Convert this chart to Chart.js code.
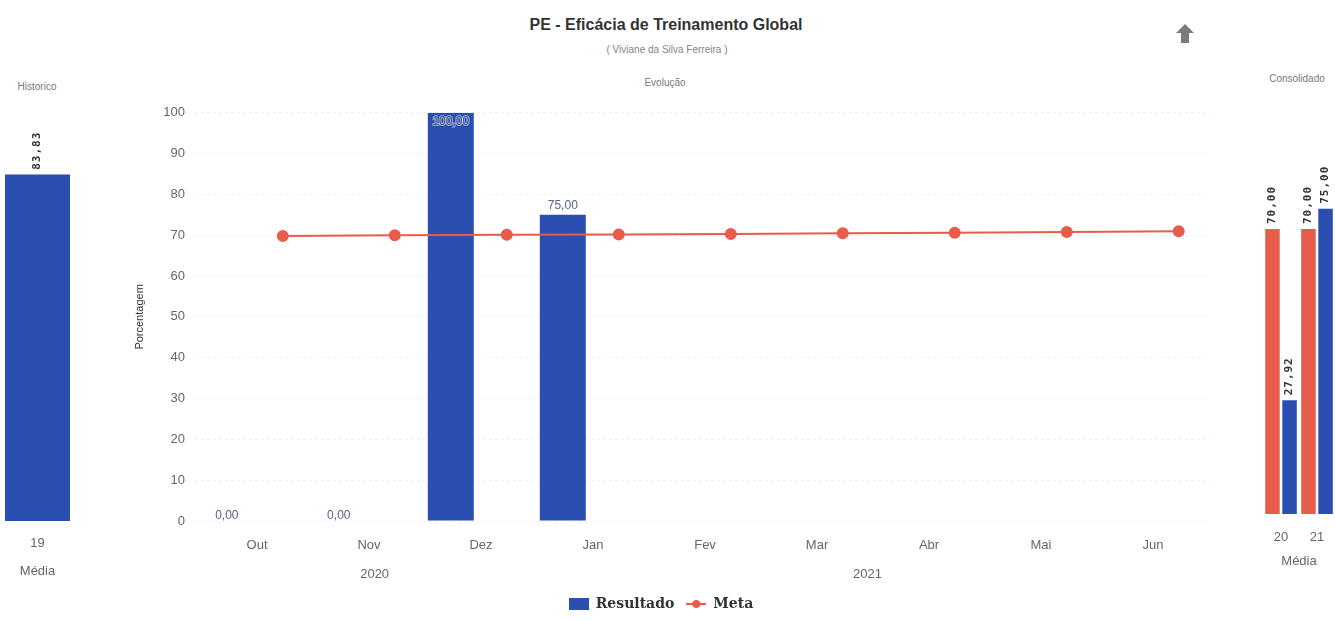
<!DOCTYPE html>
<html>
<head>
<meta charset="utf-8">
<script src="https://cdn.jsdelivr.net/npm/chart.js@4"></script>
<style>
  body { margin: 0; width: 1335px; height: 621px; background: #fff; position: relative; overflow: hidden; font-family: "Liberation Sans", Arial, sans-serif; }
  .txt { position: absolute; white-space: nowrap; transform: translate(-50%, -50%); }
  #titulo { left: 666px; top: 25px; font-size: 16px; font-weight: bold; color: #333; }
  #sub { left: 667px; top: 49px; font-size: 10px; color: #8a8284; }
  #evol { left: 665px; top: 82px; font-size: 10px; color: #777; }
  #hist { left: 37px; top: 86px; font-size: 10px; color: #777; }
  #cons { left: 1297px; top: 78px; font-size: 10px; color: #777; }
  #seta { position: absolute; left: 1176px; top: 24px; }
  .box { position: absolute; }
</style>
</head>
<body>
<div class="txt" id="titulo">PE - Eficácia de Treinamento Global</div>
<div class="txt" id="sub">( Viviane da Silva Ferreira )</div>
<div class="txt" id="evol">Evolução</div>
<div class="txt" id="hist">Historico</div>
<div class="txt" id="cons">Consolidado</div>
<svg id="seta" width="18" height="19" viewBox="0 0 18 19"><polygon points="9,0 18,9 13,9 13,19 5,19 5,9 0,9" fill="#7a7a7a"/></svg>

<div class="box" style="left:0px;top:95px;width:75px;height:484px"><canvas id="histChart"></canvas></div>
<div class="box" style="left:130px;top:95px;width:1090px;height:526px"><canvas id="evolChart"></canvas></div>
<div class="box" style="left:1255px;top:95px;width:80px;height:474px"><canvas id="consChart"></canvas></div>

<script>
// Evolução
const monthLabels = ['Out', 'Nov', 'Dez', 'Jan', 'Fev', 'Mar', 'Abr', 'Mai', 'Jun'];
const yearLabels = ['2020', '2021'];
const yearTickAt = [1.05, 5.45];
const resultado = [0, 0, 100, 75];           // Out..Jan
const meta = [69.8, 70.0, 70.1, 70.2, 70.3, 70.5, 70.6, 70.8, 71.0];

// Historico
const histLabels = ['19'];
const histResultado = [83.83];

// Consolidado
const consLabels = ['20', '21'];
const consMeta = [70, 70];
const consResultado = [27.92, 75];

const AZUL = '#2b4fb0';
const VERMELHO = '#e85c4c';
const CINZA = '#666';
const fonte = 'Liberation Sans';

Chart.defaults.font.family = fonte;
Chart.defaults.animation = false;

// barras ficam antes do início do mês, a meta depois
const barShift = -0.27;
const metaShift = 0.23;

const fmt = v => v.toFixed(2).replace('.', ',');
const semPadding = s => { s.paddingLeft = 0; s.paddingRight = 0; };

// rótulos das barras (verticais, em negrito)
function rotulosVerticais(font) {
    return {
        id: 'rotulosVerticais',
        afterDatasetsDraw(chart) {
            const ctx = chart.ctx;
            chart.data.datasets.forEach((ds, i) => {
                chart.getDatasetMeta(i).data.forEach((el, j) => {
                    ctx.save();
                    ctx.translate(el.x, el.y - 5);
                    ctx.rotate(-Math.PI / 2);
                    ctx.font = font;
                    ctx.letterSpacing = '1px';
                    ctx.textAlign = 'left';
                    ctx.textBaseline = 'middle';
                    ctx.fillStyle = '#333';
                    ctx.fillText(fmt(ds.data[j]), 0, 0);
                    ctx.restore();
                });
            });
        }
    };
}

// rótulos do gráfico de evolução
const rotulosEvol = {
    id: 'rotulosEvol',
    afterLayout(chart) {
        // legenda um pouco à esquerda, como no original
        chart.legend.left -= 9;
        chart.legend.right -= 9;
    },
    afterDatasetsDraw(chart) {
        const ctx = chart.ctx;
        const area = chart.chartArea;
        chart.getDatasetMeta(0).data.forEach((el, j) => {
            let y = resultado[j] === 0 ? el.y + 1 : el.y - 3;
            if (y - 12 < area.top) y = el.y + 15;
            ctx.save();
            ctx.font = '12px ' + fonte;
            ctx.textAlign = 'center';
            ctx.textBaseline = 'bottom';
            ctx.lineWidth = 2;
            ctx.strokeStyle = 'rgba(255,255,255,0.45)';
            ctx.fillStyle = '#55618a';
            const t = fmt(resultado[j]);
            ctx.strokeText(t, el.x, y);
            ctx.fillText(t, el.x, y);
            ctx.restore();
        });
    }
};

function icone(draw) {
    const c = document.createElement('canvas');
    c.width = 20; c.height = 14;
    draw(c.getContext('2d'));
    return c;
}
const iconeResultado = icone(ctx => { ctx.fillStyle = AZUL; ctx.fillRect(0, 1, 20, 12); });
const iconeMeta = icone(ctx => {
    ctx.strokeStyle = VERMELHO; ctx.lineWidth = 2;
    ctx.beginPath(); ctx.moveTo(0, 7); ctx.lineTo(20, 7); ctx.stroke();
    ctx.fillStyle = VERMELHO;
    ctx.beginPath(); ctx.arc(10, 7, 4, 0, Math.PI * 2); ctx.fill();
});

const histChart = new Chart(document.getElementById('histChart'), {
    type: 'bar',
    data: {
        labels: histLabels,
        datasets: [{ label: 'Resultado', data: histResultado, backgroundColor: AZUL, barPercentage: 1, categoryPercentage: 1 }]
    },
    options: {
        responsive: true, maintainAspectRatio: false,
        layout: { padding: { top: 13, left: 5, right: 5 } },
        plugins: { legend: { display: false }, tooltip: { enabled: false } },
        scales: {
            y: { display: false, min: 0, max: 100 },
            x: {
                grid: { display: false, drawTicks: false }, border: { display: false },
                ticks: { color: CINZA, font: { size: 13 }, padding: 15 },
                title: { display: true, text: 'Média', color: CINZA, font: { size: 13 }, padding: 0 },
                afterFit(s) { s.height = 58; semPadding(s); }
            }
        }
    },
    plugins: [rotulosVerticais('bold 11px "DejaVu Sans Mono"')]
});

const evolChart = new Chart(document.getElementById('evolChart'), {
    type: 'bar',
    data: {
        datasets: [{
            label: 'Resultado',
            data: resultado.map((v, i) => ({ x: i + barShift, y: v })),
            backgroundColor: AZUL,
            barThickness: 46,
            inflateAmount: 0,
            order: 1
        }, {
            type: 'line',
            label: 'Meta',
            data: meta.map((v, i) => ({ x: i + metaShift, y: v })),
            borderColor: VERMELHO,
            backgroundColor: VERMELHO,
            borderWidth: 2,
            pointRadius: 5,
            pointHoverRadius: 5,
            order: 0
        }]
    },
    options: {
        responsive: true, maintainAspectRatio: false,
        layout: { padding: { top: 13, right: 10 } },
        plugins: {
            tooltip: { enabled: false },
            legend: {
                position: 'bottom',
                labels: {
                    usePointStyle: true,
                    pointStyleWidth: 20,
                    padding: 12,
                    color: '#333',
                    font: { family: 'DejaVu Serif', size: 14, weight: 'bold' },
                    generateLabels: chart => chart.data.datasets.map((ds, i) => ({
                        text: ds.label,
                        pointStyle: i === 0 ? iconeResultado : iconeMeta,
                        fillStyle: 'transparent', strokeStyle: 'transparent', lineWidth: 0,
                        hidden: false, datasetIndex: i, fontColor: '#333'
                    }))
                }
            }
        },
        scales: {
            y: {
                min: 0, max: 100,
                ticks: { stepSize: 10, color: CINZA, font: { size: 13 }, padding: 10 },
                grid: { color: 'rgba(0,0,0,0.06)', drawTicks: false },
                border: { display: false, dash: [3, 3] },
                title: { display: true, text: 'Porcentagem', color: '#333', font: { size: 11 }, padding: { top: 3 } },
                afterFit(s) { s.width = 65; }
            },
            x: {
                type: 'linear', offset: false,
                min: -0.554, max: 8.509,
                grid: { display: false, drawTicks: false }, border: { display: false },
                afterBuildTicks(s) { s.ticks = monthLabels.map((_, i) => ({ value: i })); },
                ticks: { color: CINZA, font: { size: 13 }, padding: 17, callback: v => monthLabels[v], maxRotation: 0, autoSkip: false },
                afterFit(s) { s.height = 36; semPadding(s); }
            },
            ano: {
                type: 'linear', position: 'bottom', offset: false, weight: 1,
                min: -0.554, max: 8.509,
                grid: { display: false, drawTicks: false }, border: { display: false },
                afterBuildTicks(s) { s.ticks = yearTickAt.map(v => ({ value: v })); },
                ticks: { color: CINZA, font: { size: 13 }, padding: 10, callback: (v, i) => yearLabels[i], maxRotation: 0, autoSkip: false },
                afterFit(s) { s.height = 28; semPadding(s); }
            }
        }
    },
    plugins: [rotulosEvol]
});

const consChart = new Chart(document.getElementById('consChart'), {
    type: 'bar',
    data: {
        labels: consLabels,
        datasets: [
            { label: 'Meta', data: consMeta, backgroundColor: VERMELHO, barPercentage: 0.85, categoryPercentage: 0.95 },
            { label: 'Resultado', data: consResultado, backgroundColor: AZUL, barPercentage: 0.85, categoryPercentage: 0.95 }
        ]
    },
    options: {
        responsive: true, maintainAspectRatio: false,
        layout: { padding: { top: 12, left: 8, right: 0 } },
        plugins: { legend: { display: false }, tooltip: { enabled: false } },
        scales: {
            y: { display: false, min: 0, max: 100 },
            x: {
                grid: { display: false, drawTicks: false }, border: { display: false },
                ticks: { color: CINZA, font: { size: 13 }, padding: 16 },
                title: { display: true, text: 'Média', color: CINZA, font: { size: 13 }, padding: 0 },
                afterFit(s) { s.height = 55; semPadding(s); }
            }
        }
    },
    plugins: [rotulosVerticais('bold 11px "DejaVu Sans Mono"')]
});
</script>
</body>
</html>
